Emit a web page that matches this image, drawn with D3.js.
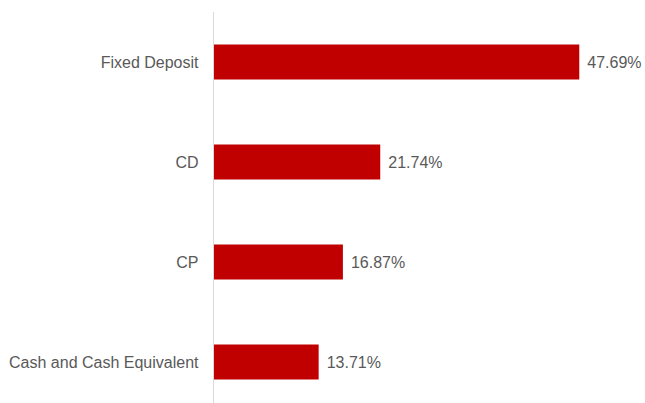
<!DOCTYPE html>
<html lang="en">
<head>
    <meta charset="UTF-8">
    <title>Portfolio</title>
    <script src="https://d3js.org/d3.v7.min.js"></script>
    <style>
        body { margin: 0; background: #fff; }
        text { font-family: "Liberation Sans", Arial, sans-serif; font-size: 16px; fill: #595959; }
    </style>
</head>
<body>
    <div id="chart"></div>
    <script>
        // chart data
        const categories = ["Fixed Deposit", "CD", "CP", "Cash and Cash Equivalent"];
        const values = [47.69, 21.74, 16.87, 13.71];

        const width = 645, height = 403;
        const axisX = 213.5;

        const svg = d3.select("#chart").append("svg")
            .attr("width", width)
            .attr("height", height);

        const y = d3.scaleBand()
            .domain(categories)
            .range([12, 412])
            .paddingInner(0.65)
            .paddingOuter(0.325);

        const x = d3.scaleLinear()
            .domain([0, 50])
            .range([axisX, axisX + 383.5]);

        // bars
        svg.selectAll("rect")
            .data(values)
            .join("rect")
            .attr("x", x(0))
            .attr("y", (d, i) => y(categories[i]))
            .attr("width", d => x(d) - x(0))
            .attr("height", y.bandwidth())
            .attr("fill", "#C00000");

        // vertical axis line
        svg.append("line")
            .attr("x1", axisX).attr("x2", axisX)
            .attr("y1", 12).attr("y2", height)
            .attr("stroke", "#d9d9d9")
            .attr("stroke-width", 1);

        // category labels
        svg.selectAll(".cat")
            .data(categories)
            .join("text")
            .attr("class", "cat")
            .attr("x", axisX - 15)
            .attr("y", d => y(d) + y.bandwidth() / 2)
            .attr("dy", "0.35em")
            .attr("text-anchor", "end")
            .text(d => d);

        // value labels
        svg.selectAll(".val")
            .data(values)
            .join("text")
            .attr("class", "val")
            .attr("x", d => x(d) + 8)
            .attr("y", (d, i) => y(categories[i]) + y.bandwidth() / 2)
            .attr("dy", "0.35em")
            .text(d => d.toFixed(2) + "%");
    </script>
</body>
</html>
